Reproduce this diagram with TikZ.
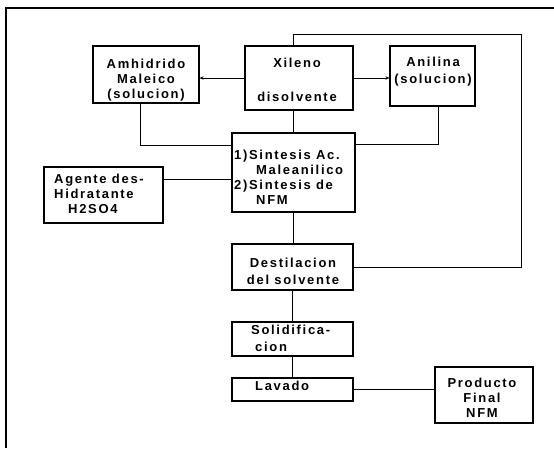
\documentclass[tikz,border=0pt]{standalone}
\usepackage{fontspec}
\setmainfont{Liberation Sans}[LetterSpace=13, BoldFont={Liberation Sans Bold}, BoldFeatures={LetterSpace=13}]
\usetikzlibrary{arrows.meta}
\begin{document}
\begin{tikzpicture}[x=1pt,y=-1pt,
  box/.style={draw=black, line width=1.2pt, inner sep=0pt, rectangle},
  txt/.style={inner sep=0pt, font=\bfseries\fontsize{13}{15}\selectfont},
  conn/.style={draw=black, line width=1pt},
  arr/.style={conn, -{Stealth[length=4pt,width=3.5pt]}}]
\useasboundingbox (0,0) rectangle (554,448);
\fill[white] (0,0) rectangle (554,448);
% outer frame (only top and left edges visible)
\coordinate (frTL) at (6,8);
\coordinate (frTR) at (554,8);
\coordinate (frBL) at (6,448);
\draw[line width=1.2pt] (frTR) -- (frTL) -- (frBL);
% boxes
\node[box, minimum width=106, minimum height=57] (amh) at (146,74.5) {};
\node[box, minimum width=108, minimum height=64] (xil) at (299,78) {};
\node[box, minimum width=85, minimum height=60] (ani) at (432.5,76) {};
\node[box, minimum width=123, minimum height=79] (sint) at (293.5,172.5) {};
\node[box, minimum width=119, minimum height=56] (age) at (103.5,195) {};
\node[box, minimum width=121, minimum height=46] (dest) at (292.5,267) {};
\node[box, minimum width=121, minimum height=34] (sol) at (292.5,339) {};
\node[box, minimum width=121, minimum height=23] (lav) at (292.5,389.5) {};
\node[box, minimum width=98, minimum height=56] (prod) at (484,395) {};
% texts
\node[txt, align=center] (amht) at (146,80) {Amhidrido\\Maleico\\(solucion)};
\node[txt, align=center] (xilt) at (297,80) {Xileno\\[19pt]disolvente};
\node[txt, align=center] (anit) at (433,72) {Anilina\\[2pt](solucion)};
\node[txt, align=left, anchor=west] (sintt) at (234,177) {1)Sintesis Ac.\\\hspace*{22pt}Maleanilico\\2)Sintesis de\\\hspace*{22pt}NFM};
\node[txt, align=left, anchor=west] (aget) at (54,193.5) {Agente des-\\Hidratante\\\hspace*{14pt}H2SO4};
\node[txt, align=center] (destt) at (293,271.5) {Destilacion\\[2pt]del solvente};
\node[txt, align=left, anchor=west] (solt) at (251,338.5) {Solidifica-\\[2pt]\hspace*{4pt}cion};
\node[txt, anchor=west] (lavt) at (255,386) {Lavado};
\node[txt, align=center] (prodt) at (482,398) {Producto\\Final\\NFM};
% connectors
\draw[arr] (xil.west) -- (xil.west -| amh.east);
\draw[arr] (xil.east) -- (xil.east -| ani.west);
\draw[conn] ([xshift=-6pt]amh.south) |- ([yshift=27.5pt]sint.west);
\draw[conn] ([xshift=5.5pt]ani.south) |- ([yshift=28.5pt]sint.east);
\draw[conn] ([yshift=16pt]age.east) -- ([yshift=16pt]age.east -| sint.west);
\draw[conn] (sint.north |- xil.south) -- (sint.north);
\coordinate (fbtop) at (521,34);
\draw[conn] (sint.north |- xil.north) |- (fbtop) |- (dest.east);
\draw[conn] (sint.south) -- (sint.south |- dest.north);
\draw[conn] (dest.south) -- (sol.north);
\draw[conn] (sol.south) -- (lav.north);
\draw[conn] (lav.east) -- (lav.east -| prod.west);
\end{tikzpicture}
\end{document}
